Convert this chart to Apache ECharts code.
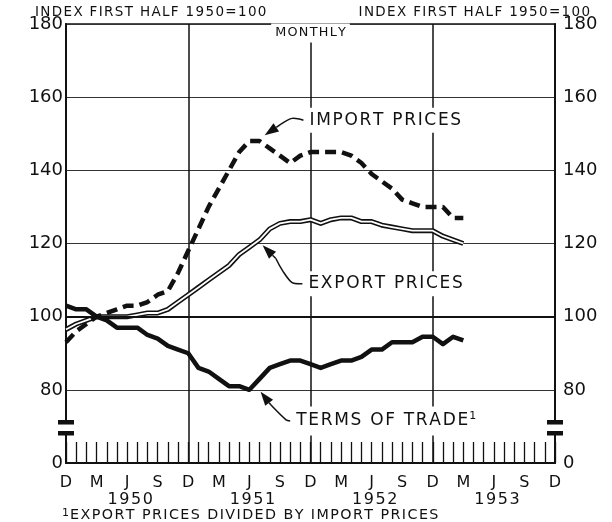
<!DOCTYPE html>
<html>
<head>
<meta charset="utf-8">
<script src="https://cdn.jsdelivr.net/npm/echarts@6/dist/echarts.min.js"></script>
<style>
  html, body { margin: 0; padding: 0; background: #fff; }
  #chart { width: 612px; height: 522px; }
</style>
</head>
<body>
<div id="chart"></div>
<script>
// Month initials, starting with December (the first category is Dec 1949)
const monthLetters = ['D', 'J', 'F', 'M', 'A', 'M', 'J', 'J', 'A', 'S', 'O', 'N'];
const monthNames = ['Dec', 'Jan', 'Feb', 'Mar', 'Apr', 'May', 'Jun', 'Jul', 'Aug', 'Sep', 'Oct', 'Nov'];

// Monthly categories Dec 1949 .. Dec 1953
const categories = [];
for (let i = 0; i <= 48; i++) {
  const year = 1949 + Math.floor((i + 11) / 12);
  categories.push(monthNames[i % 12] + ' ' + year);
}

const yearLabels = ['1950', '1951', '1952', '1953'];
const yTicks = [60, 80, 100, 120, 140, 160, 180];
const yTickLabels = ['0', '80', '100', '120', '140', '160', '180'];

// Index, first half 1950 = 100 (Dec 1949 .. Mar 1953)
const importPrices = [
  93, 96, 98, 100, 101, 102, 103, 103, 104, 106, 107, 112,
  118, 124, 130, 135, 140, 145, 148, 148, 146, 144, 142, 144,
  145, 145, 145, 145, 144, 142, 139, 137, 135, 132, 131, 130,
  130, 130, 127, 127
];
const exportPrices = [
  96.5, 98, 99, 100, 100, 100, 100, 100.5, 101, 101, 102, 104,
  106, 108, 110, 112, 114, 117, 119, 121, 124, 125.5, 126, 126,
  126.5, 125.5, 126.5, 127, 127, 126, 126, 125, 124.5, 124, 123.5, 123.5,
  123.5, 122, 121, 120
];
const termsOfTrade = [
  103, 102, 102, 100, 99, 97, 97, 97, 95, 94, 92, 91,
  90, 86, 85, 83, 81, 81, 80, 83, 86, 87, 88, 88,
  87, 86, 87, 88, 88, 89, 91, 91, 93, 93, 93, 94.5,
  94.5, 92.5, 94.5, 93.5
];

const seriesNotes = [
  { text: 'IMPORT PRICES', sup: '', at: [23.6, 153.7], path: [[22.2, 154.2], [21.1, 152.6]], tip: [19.5, 149.6] },
  { text: 'EXPORT PRICES', sup: '', at: [23.5, 109.0], path: [[22.2, 109.3], [21.3, 112.4], [20.6, 115.9]], tip: [19.3, 119.5] },
  { text: 'TERMS OF TRADE', sup: '1', at: [22.3, 71.5], path: [[21.6, 71.8], [20.1, 75.9]], tip: [19.1, 79.5] }
];

const footnote = 'EXPORT PRICES DIVIDED BY IMPORT PRICES';
const axisTitle = 'INDEX FIRST HALF 1950=100';
const subtitle = 'MONTHLY';

const FONT = '"DejaVu Sans", sans-serif';
const INK = '#111';

// Open up lettering by putting a hair space between characters
const HAIR = '\u200A';
const spaced = s => s.split('').join(HAIR);

const chart = echarts.init(document.getElementById('chart'), null, { renderer: 'canvas' });

const yAxisCommon = {
  type: 'value', min: 60, max: 180, interval: 20,
  axisLine: { show: true, lineStyle: { color: INK, width: 2 } },
  axisTick: { show: false },
  axisLabel: {
    color: INK, fontFamily: FONT, fontSize: 18,
    formatter: v => yTickLabels[yTicks.indexOf(v)]
  }
};

chart.setOption({
  animation: false,
  backgroundColor: '#fff',
  grid: { left: 66, right: 57, top: 24, bottom: 59, show: true, borderColor: INK, borderWidth: 1.5 },
  xAxis: {
    type: 'category', data: categories, boundaryGap: false,
    axisLine: { show: true, lineStyle: { color: INK, width: 2 } },
    axisTick: { show: true, inside: true, length: 21, interval: 0, lineStyle: { color: INK, width: 1.3 } },
    axisLabel: {
      interval: 2, color: INK, fontFamily: FONT, fontSize: 16, margin: 12,
      formatter: (v, i) => monthLetters[i % 12]
    },
    splitLine: {
      show: true,
      interval: i => i % 12 === 0 && i > 0 && i < 48,
      lineStyle: { color: INK, width: 1.5 }
    }
  },
  yAxis: [
    Object.assign({}, yAxisCommon, {
      position: 'left',
      axisLabel: Object.assign({}, yAxisCommon.axisLabel, { margin: 3 }),
      splitLine: { show: true, lineStyle: { color: '#333', width: 1 } }
    }),
    Object.assign({}, yAxisCommon, {
      position: 'right',
      axisLabel: Object.assign({}, yAxisCommon.axisLabel, { margin: 8 }),
      splitLine: { show: false }
    })
  ],
  series: [
    {
      name: 'Export prices (outline)', type: 'line', data: exportPrices, showSymbol: false,
      lineStyle: { color: INK, width: 5, join: 'round' }, z: 3
    },
    {
      name: 'Export prices', type: 'line', data: exportPrices, showSymbol: false,
      lineStyle: { color: '#fff', width: 1.8, join: 'round' }, z: 4
    },
    {
      name: 'Import prices', type: 'line', data: importPrices, showSymbol: false,
      lineStyle: { color: INK, width: 4.5, type: [11, 6], cap: 'butt' }, z: 5
    },
    {
      name: 'Terms of trade', type: 'line', data: termsOfTrade, showSymbol: false,
      lineStyle: { color: INK, width: 4.5, join: 'round' }, z: 6,
      markLine: {
        silent: true, symbol: 'none', label: { show: false },
        lineStyle: { color: INK, width: 2, type: 'solid' },
        data: [{ yAxis: 100 }]
      }
    }
  ]
});

// Pixel helpers: months may be fractional, so interpolate along the category axis
const xStart = chart.convertToPixel({ xAxisIndex: 0 }, 0);
const xEnd = chart.convertToPixel({ xAxisIndex: 0 }, 48);
const xPix = m => xStart + (xEnd - xStart) * m / 48;
const yPix = v => chart.convertToPixel({ yAxisIndex: 0 }, v);
const toPx = p => [xPix(p[0]), yPix(p[1])];

const graphics = [];

// Header texts
const topY = yPix(180);
graphics.push({
  type: 'text', left: 35, top: 5, z: 20,
  style: { text: spaced(axisTitle), fill: INK, font: '13.5px ' + FONT }
});
graphics.push({
  type: 'text', right: 22, top: 5, z: 20,
  style: { text: spaced(axisTitle), fill: INK, font: '13.5px ' + FONT }
});
graphics.push({
  type: 'text', x: xPix(24), y: topY + 9, z: 20,
  style: {
    text: spaced(subtitle), fill: INK, font: '12.8px ' + FONT, align: 'center', verticalAlign: 'middle',
    backgroundColor: '#fff', padding: [3, 4]
  }
});

// Year captions under the month initials
const baseY = yPix(60);
yearLabels.forEach((yr, k) => {
  graphics.push({
    type: 'text', x: xPix(6.3 + 12 * k), y: baseY + 37, z: 20,
    style: { text: spaced(yr), fill: INK, font: '16px ' + FONT, align: 'center', verticalAlign: 'middle' }
  });
});

// Footnote
graphics.push({
  type: 'text', left: 62, top: baseY + 45, z: 20,
  style: {
    text: '{s|1}' + spaced(footnote), fill: INK, font: '14.3px ' + FONT,
    rich: { s: { font: '11px ' + FONT, fill: INK, verticalAlign: 'top', padding: [0, 1, 4, 0] } }
  }
});

// Axis break marks on both vertical axes
[xPix(0), xPix(48)].forEach(ax => {
  const yUp = yPix(71.2), yLo = yPix(68.2);
  graphics.push({ type: 'rect', z: 20, shape: { x: ax - 3, y: yUp + 2, width: 6, height: yLo - yUp - 4 }, style: { fill: '#fff' } });
  graphics.push({ type: 'rect', z: 21, shape: { x: ax - 8, y: yUp - 2, width: 16, height: 4.5 }, style: { fill: INK } });
  graphics.push({ type: 'rect', z: 21, shape: { x: ax - 8, y: yLo - 2, width: 16, height: 4.5 }, style: { fill: INK } });
});

// Series labels with leader arrows
seriesNotes.forEach(n => {
  const at = toPx(n.at);
  graphics.push({
    type: 'text', x: at[0], y: at[1], z: 20,
    style: {
      text: spaced(n.text) + (n.sup ? '{s|' + n.sup + '}' : ''),
      fill: INK, font: '17px ' + FONT, align: 'left', verticalAlign: 'middle',
      backgroundColor: '#fff', padding: [4, 3, 4, 3],
      rich: { s: { font: '11px ' + FONT, fill: INK, verticalAlign: 'top', padding: [0, 0, 10, 1] } }
    }
  });
  const pts = [[at[0] - 3, at[1]]].concat(n.path.map(toPx));
  graphics.push({
    type: 'polyline', z: 21, shape: { points: pts, smooth: 0.3 },
    style: { stroke: INK, lineWidth: 1.5, fill: null }
  });
  const base = pts[pts.length - 1];
  const tip = toPx(n.tip);
  const dx = tip[0] - base[0], dy = tip[1] - base[1];
  const len = Math.hypot(dx, dy) || 1;
  const ux = dx / len, uy = dy / len;
  const hl = 14, hw = 5;
  const bx = tip[0] - ux * hl, by = tip[1] - uy * hl;
  graphics.push({
    type: 'polyline', z: 21, shape: { points: [base, [bx, by]] },
    style: { stroke: INK, lineWidth: 1.5, fill: null }
  });
  graphics.push({
    type: 'polygon', z: 22,
    shape: { points: [tip, [bx - uy * hw, by + ux * hw], [bx + uy * hw, by - ux * hw]] },
    style: { fill: INK }
  });
});

chart.setOption({ graphic: graphics });
</script>
</body>
</html>
